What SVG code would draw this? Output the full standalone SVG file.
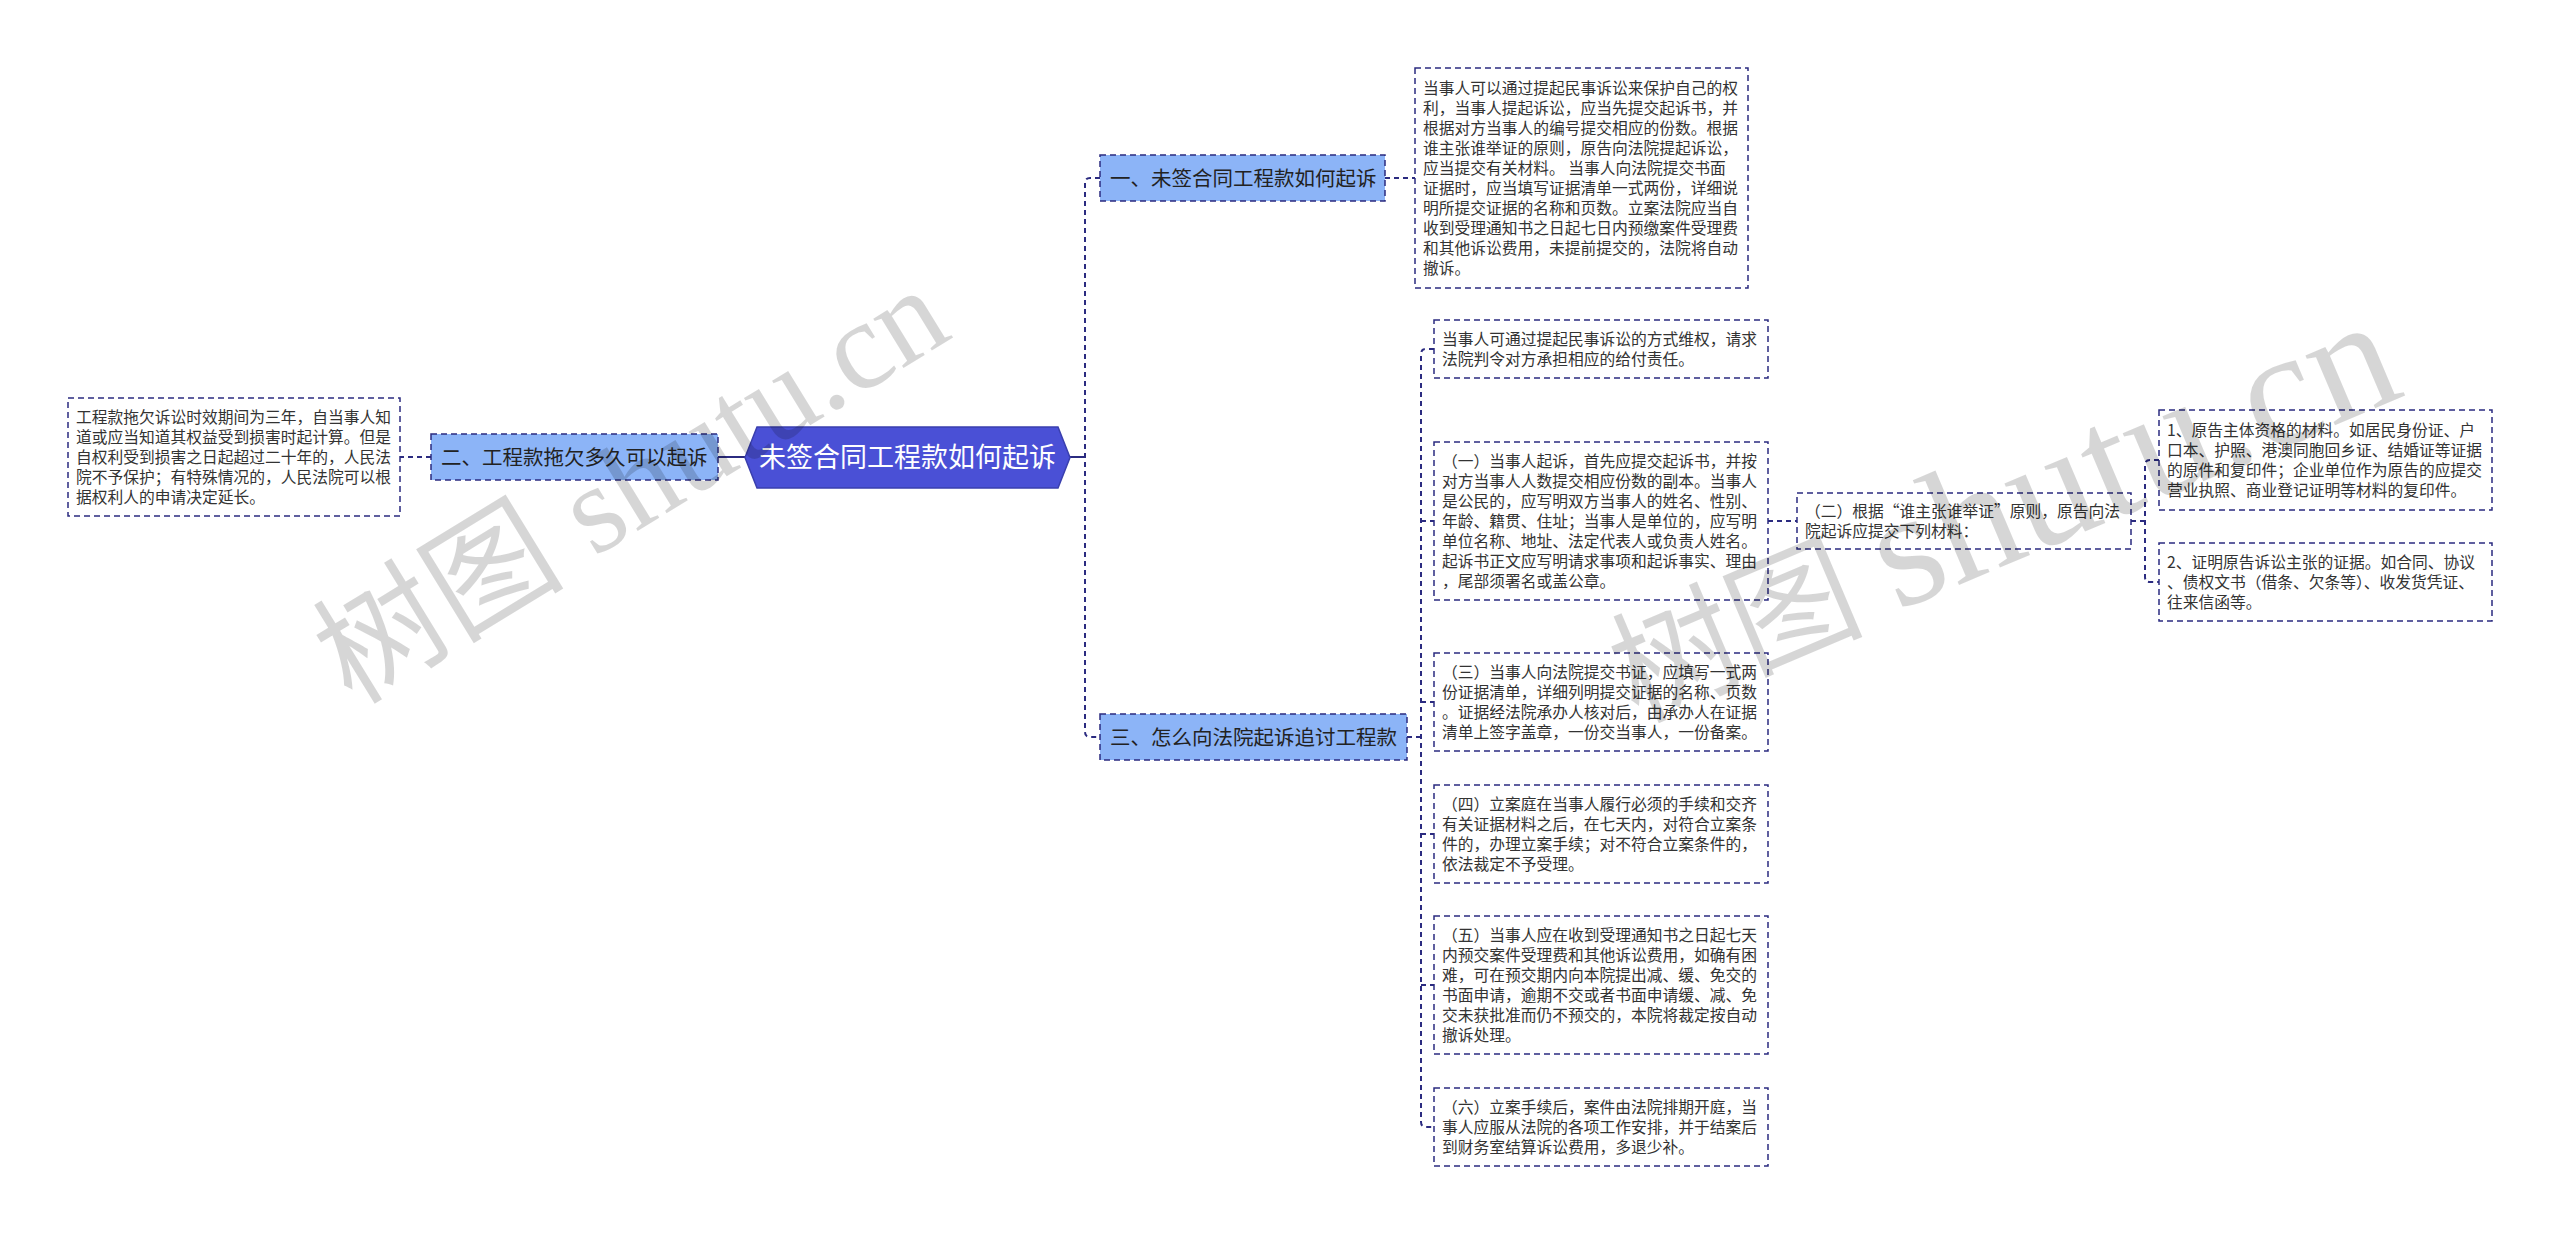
<svg xmlns="http://www.w3.org/2000/svg" width="2560" height="1233" viewBox="0 0 2560 1233">
<style>
.bg{fill:#ffffff}
.box{fill:#ffffff;stroke:#2b2b80;stroke-width:1.5;stroke-dasharray:6 4}
.cat{fill:#8cb4f7;stroke:#2b2b80;stroke-width:1.5;stroke-dasharray:6 4}
.root{fill:#4a50d6;stroke:#3a3fae;stroke-width:1.5}
.t{font-family:"Noto Sans CJK SC","Liberation Sans",sans-serif;font-size:15.75px;fill:#333333}
.ct{font-family:"Noto Sans CJK SC","Liberation Sans",sans-serif;font-size:20.5px;fill:#222222}
.rt{font-family:"Noto Sans CJK SC","Liberation Sans",sans-serif;font-size:27px;fill:#ffffff;text-anchor:middle}
.dash{fill:none;stroke:#2b2b80;stroke-width:2;stroke-dasharray:5 4}
.solid{fill:none;stroke:#2b2b80;stroke-width:2}
.wm{font-family:"Liberation Serif","Noto Sans CJK SC",serif;fill:#000000;fill-opacity:0.16}
</style>
<rect class="bg" x="0" y="0" width="2560" height="1233"/>

<g id="connectors">
  <path class="solid" d="M718,457 H745"/>
  <path class="dash" d="M431,457 H400"/>
  <path class="solid" d="M1070,457 H1085"/>
  <path class="dash" d="M1100,178 H1090 Q1085,178 1085,183 V732 Q1085,737 1090,737 H1100"/>
  <path class="dash" d="M1385,178 H1415"/>
  <path class="dash" d="M1407,737 H1421"/>
  <path class="dash" d="M1434,349 H1426 Q1421,349 1421,354 V1122 Q1421,1127 1426,1127 H1434"/>
  <path class="dash" d="M1421,521 H1434"/>
  <path class="dash" d="M1421,702 H1434"/>
  <path class="dash" d="M1421,834 H1434"/>
  <path class="dash" d="M1421,985 H1434"/>
  <path class="dash" d="M1768,521 H1797"/>
  <path class="dash" d="M2131,521 H2145"/>
  <path class="dash" d="M2159,460 H2150 Q2145,460 2145,465 V577 Q2145,582 2150,582 H2159"/>
</g>

<g id="root">
  <polygon class="root" points="745,457.5 757,427 1058,427 1070,457.5 1058,488 757,488"/>
  <text class="rt" x="907.5" y="467">未签合同工程款如何起诉</text>
</g>

<g id="cat1">
  <rect class="cat" x="1100" y="155" width="285" height="46"/>
  <text class="ct" x="1110" y="185.5">一、未签合同工程款如何起诉</text>
</g>
<g id="cat2">
  <rect class="cat" x="431" y="434" width="287" height="46"/>
  <text class="ct" x="441" y="464.5">二、工程款拖欠多久可以起诉</text>
</g>
<g id="cat3">
  <rect class="cat" x="1100" y="714" width="307" height="46"/>
  <text class="ct" x="1110" y="744.5">三、怎么向法院起诉追讨工程款</text>
</g>

<g id="boxA">
  <rect class="box" x="1415" y="68" width="333" height="220"/>
  <text class="t">
    <tspan x="1423" y="94">当事人可以通过提起民事诉讼来保护自己的权</tspan>
    <tspan x="1423" y="114">利，当事人提起诉讼，应当先提交起诉书，并</tspan>
    <tspan x="1423" y="134">根据对方当事人的编号提交相应的份数。根据</tspan>
    <tspan x="1423" y="154">谁主张谁举证的原则，原告向法院提起诉讼，</tspan>
    <tspan x="1423" y="174">应当提交有关材料。 当事人向法院提交书面</tspan>
    <tspan x="1423" y="194">证据时，应当填写证据清单一式两份，详细说</tspan>
    <tspan x="1423" y="214">明所提交证据的名称和页数。立案法院应当自</tspan>
    <tspan x="1423" y="234">收到受理通知书之日起七日内预缴案件受理费</tspan>
    <tspan x="1423" y="254">和其他诉讼费用，未提前提交的，法院将自动</tspan>
    <tspan x="1423" y="274">撤诉。</tspan>
  </text>
</g>

<g id="boxL">
  <rect class="box" x="68" y="398" width="332" height="118"/>
  <text class="t">
    <tspan x="76" y="423">工程款拖欠诉讼时效期间为三年，自当事人知</tspan>
    <tspan x="76" y="443">道或应当知道其权益受到损害时起计算。但是</tspan>
    <tspan x="76" y="463">自权利受到损害之日起超过二十年的，人民法</tspan>
    <tspan x="76" y="483">院不予保护；有特殊情况的，人民法院可以根</tspan>
    <tspan x="76" y="503">据权利人的申请决定延长。</tspan>
  </text>
</g>

<g id="c1">
  <rect class="box" x="1434" y="320" width="334" height="58"/>
  <text class="t">
    <tspan x="1442" y="345">当事人可通过提起民事诉讼的方式维权，请求</tspan>
    <tspan x="1442" y="365">法院判令对方承担相应的给付责任。</tspan>
  </text>
</g>

<g id="c2">
  <rect class="box" x="1434" y="442" width="334" height="158"/>
  <text class="t">
    <tspan x="1442" y="467">（一）当事人起诉，首先应提交起诉书，并按</tspan>
    <tspan x="1442" y="487">对方当事人人数提交相应份数的副本。当事人</tspan>
    <tspan x="1442" y="507">是公民的，应写明双方当事人的姓名、性别、</tspan>
    <tspan x="1442" y="527">年龄、籍贯、住址；当事人是单位的，应写明</tspan>
    <tspan x="1442" y="547">单位名称、地址、法定代表人或负责人姓名。</tspan>
    <tspan x="1442" y="567">起诉书正文应写明请求事项和起诉事实、理由</tspan>
    <tspan x="1442" y="587">，尾部须署名或盖公章。</tspan>
  </text>
</g>

<g id="c3">
  <rect class="box" x="1434" y="653" width="334" height="98"/>
  <text class="t">
    <tspan x="1442" y="678">（三）当事人向法院提交书证，应填写一式两</tspan>
    <tspan x="1442" y="698">份证据清单，详细列明提交证据的名称、页数</tspan>
    <tspan x="1442" y="718">。证据经法院承办人核对后，由承办人在证据</tspan>
    <tspan x="1442" y="738">清单上签字盖章，一份交当事人，一份备案。</tspan>
  </text>
</g>

<g id="c4">
  <rect class="box" x="1434" y="785" width="334" height="98"/>
  <text class="t">
    <tspan x="1442" y="810">（四）立案庭在当事人履行必须的手续和交齐</tspan>
    <tspan x="1442" y="830">有关证据材料之后，在七天内，对符合立案条</tspan>
    <tspan x="1442" y="850">件的，办理立案手续；对不符合立案条件的，</tspan>
    <tspan x="1442" y="870">依法裁定不予受理。</tspan>
  </text>
</g>

<g id="c5">
  <rect class="box" x="1434" y="916" width="334" height="138"/>
  <text class="t">
    <tspan x="1442" y="941">（五）当事人应在收到受理通知书之日起七天</tspan>
    <tspan x="1442" y="961">内预交案件受理费和其他诉讼费用，如确有困</tspan>
    <tspan x="1442" y="981">难，可在预交期内向本院提出减、缓、免交的</tspan>
    <tspan x="1442" y="1001">书面申请，逾期不交或者书面申请缓、减、免</tspan>
    <tspan x="1442" y="1021">交未获批准而仍不预交的，本院将裁定按自动</tspan>
    <tspan x="1442" y="1041">撤诉处理。</tspan>
  </text>
</g>

<g id="c6">
  <rect class="box" x="1434" y="1088" width="334" height="78"/>
  <text class="t">
    <tspan x="1442" y="1113">（六）立案手续后，案件由法院排期开庭，当</tspan>
    <tspan x="1442" y="1133">事人应服从法院的各项工作安排，并于结案后</tspan>
    <tspan x="1442" y="1153">到财务室结算诉讼费用，多退少补。</tspan>
  </text>
</g>

<g id="c2sub">
  <rect class="box" x="1797" y="493" width="334" height="56"/>
  <text class="t">
    <tspan x="1805" y="517">（二）根据“谁主张谁举证”原则，原告向法</tspan>
    <tspan x="1805" y="537">院起诉应提交下列材料：</tspan>
  </text>
</g>

<g id="g1">
  <rect class="box" x="2159" y="410" width="333" height="100"/>
  <text class="t">
    <tspan x="2167" y="436">1、原告主体资格的材料。如居民身份证、户</tspan>
    <tspan x="2167" y="456">口本、护照、港澳同胞回乡证、结婚证等证据</tspan>
    <tspan x="2167" y="476">的原件和复印件；企业单位作为原告的应提交</tspan>
    <tspan x="2167" y="496">营业执照、商业登记证明等材料的复印件。</tspan>
  </text>
</g>

<g id="g2">
  <rect class="box" x="2159" y="543" width="333" height="78"/>
  <text class="t">
    <tspan x="2167" y="568">2、证明原告诉讼主张的证据。如合同、协议</tspan>
    <tspan x="2167" y="588">、债权文书（借条、欠条等）、收发货凭证、</tspan>
    <tspan x="2167" y="608">往来信函等。</tspan>
  </text>
</g>

<g id="watermark">
  <text class="wm" font-size="126" transform="translate(352,706) rotate(-31.5)">树图 shutu.cn</text>
  <text class="wm" font-size="126" transform="translate(1636,722) rotate(-23)">树图 <tspan font-size="165">shutu.cn</tspan></text>
</g>
</svg>
